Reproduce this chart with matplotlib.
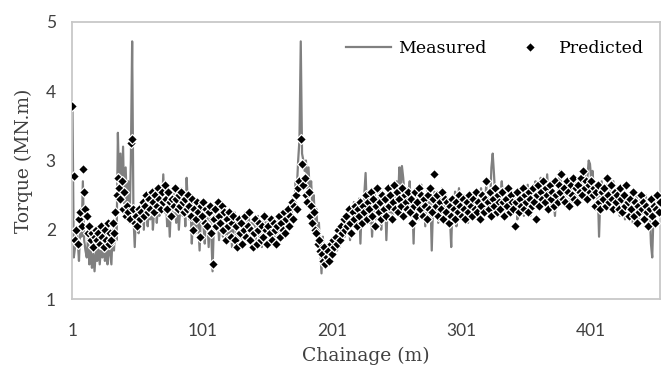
import numpy as np
import matplotlib.pyplot as plt

# measured torque (MN.m), one value per chainage metre starting at 1
measured = [
    3.75, 1.60, 1.75, 2.00, 1.85, 1.55, 2.05, 1.90, 2.70, 1.85,
    1.70, 1.60, 1.90, 1.50, 1.75, 1.45, 1.65, 1.40, 1.70, 1.55,
    1.80, 1.50, 1.75, 1.60, 1.85, 1.55, 1.70, 1.50, 1.80, 1.65,
    1.50, 2.00, 1.70, 2.10, 1.85, 3.40, 2.60, 3.10, 2.40, 3.20,
    2.20, 2.90, 2.30, 2.70, 2.10, 3.00, 4.72, 2.20, 1.75, 2.30,
    2.05, 1.95, 2.25, 2.10, 2.40, 2.00, 2.50, 2.25, 2.05, 2.35,
    2.15, 2.45, 2.00, 2.30, 2.55, 2.10, 2.40, 2.20, 2.60, 2.30,
    2.80, 2.25, 2.50, 2.05, 2.35, 1.90, 2.40, 2.15, 2.55, 2.30,
    2.10, 2.45, 2.00, 2.30, 2.60, 2.20, 2.45, 2.05, 2.75, 2.35,
    2.15, 2.40, 1.80, 2.20, 2.35, 1.95, 2.30, 2.10, 1.70, 2.25,
    2.40, 2.05, 1.80, 2.30, 2.15, 1.75, 2.20, 1.95, 1.40, 2.10,
    2.35, 2.00, 2.20, 1.85, 2.10, 2.30, 1.90, 2.15, 2.05, 1.80,
    2.20, 1.95, 2.10, 1.75, 2.05, 2.25, 1.90, 2.15, 1.80, 2.00,
    2.20, 1.85, 2.05, 2.25, 1.90, 2.00, 2.20, 1.80, 2.10, 1.95,
    2.15, 1.85, 2.00, 2.20, 1.90, 2.10, 1.75, 2.05, 2.25, 1.95,
    2.00, 2.20, 1.85, 2.10, 1.95, 2.15, 1.80, 2.05, 2.20, 1.90,
    2.10, 1.85, 2.05, 2.25, 1.95, 2.15, 2.30, 2.00, 2.40, 2.20,
    2.50, 2.30, 2.70, 2.60, 3.00, 3.30, 4.72, 3.10, 3.00, 2.85,
    3.00, 2.60, 2.90, 2.50, 2.70, 2.30, 2.50, 2.10, 2.30, 1.95,
    2.10, 1.75, 1.37, 1.90, 1.60, 1.70, 1.55, 1.80, 1.50, 1.75,
    1.60, 1.85, 1.65, 1.90, 1.70, 1.95, 1.75, 2.05, 1.85, 2.10,
    1.90, 2.20, 2.00, 2.30, 1.85, 2.25, 2.10, 2.40, 2.05, 2.30,
    2.15, 2.45, 1.80, 2.35, 2.20, 2.50, 2.82, 2.25, 2.45, 2.10,
    2.40, 1.90, 2.30, 2.55, 2.15, 2.45, 2.25, 2.60, 2.00, 2.40,
    2.20, 2.50, 1.85, 2.35, 2.60, 2.25, 2.45, 2.15, 2.55, 2.30,
    2.70, 2.40, 2.90, 2.60, 2.92, 2.75, 2.50, 2.30, 2.60, 2.40,
    2.70, 2.20, 2.45, 1.80, 2.50, 2.35, 2.55, 2.15, 2.40, 2.65,
    2.25, 2.50, 2.05, 2.40, 2.60, 2.20, 2.45, 1.70, 2.35, 2.55,
    2.30, 2.55, 2.10, 2.45, 2.25, 2.60, 2.35, 2.15, 2.50, 2.30,
    2.45, 2.20, 1.75, 2.40, 2.25, 2.55, 2.05, 2.35, 2.60, 2.25,
    2.40, 2.15, 2.50, 2.30, 2.45, 2.10, 2.55, 2.25, 2.40, 2.20,
    2.50, 2.30, 2.45, 2.15, 2.40, 2.60, 2.25, 2.50, 2.35, 2.65,
    2.30, 2.55, 2.40, 2.90, 3.10, 2.80, 2.45, 2.25, 2.55, 2.35,
    2.50, 2.70, 2.40, 2.30, 2.55, 2.20, 2.45, 2.35, 2.60, 2.25,
    2.45, 2.30, 2.55, 2.15, 2.40, 2.60, 2.30, 2.50, 2.20, 2.45,
    2.35, 2.65, 2.40, 2.20, 2.50, 2.30, 2.55, 2.70, 2.40, 2.60,
    2.30, 2.75, 2.50, 2.65, 2.35, 2.55, 2.80, 2.45, 2.60, 2.35,
    2.65, 2.45, 2.20, 2.55, 2.40, 2.70, 2.85, 2.50, 2.60, 2.40,
    2.55, 2.35, 2.70, 2.50, 2.30, 2.60, 2.45, 2.75, 2.55, 2.40,
    2.60, 2.45, 2.70, 2.55, 2.65, 2.80, 2.60, 2.75, 3.00, 2.95,
    2.70, 2.85, 2.55, 2.65, 2.45, 2.60, 1.90, 2.50, 2.70, 2.45,
    2.60, 2.40, 2.65, 2.50, 2.35, 2.60, 2.45, 2.70, 2.50, 2.35,
    2.55, 2.40, 2.20, 2.50, 2.35, 2.60, 2.15, 2.45, 2.30, 2.50,
    2.25, 2.45, 2.10, 2.40, 2.20, 2.50, 2.30, 2.15, 2.45, 2.25,
    2.40, 2.20, 2.50, 2.30, 2.10, 2.35, 1.80, 1.60, 2.25, 2.40,
    2.20, 2.45, 2.30, 2.50,
]

# predicted torque (MN.m)
predicted = [
    3.78, 2.77, 1.85, 2.00, 1.80, 2.15, 2.25, 2.05, 2.87, 2.55,
    2.30, 2.20, 1.95, 2.05, 1.85, 1.95, 1.75, 1.90, 2.00, 1.85,
    1.95, 1.80, 2.05, 1.90, 1.75, 2.00, 1.85, 2.10, 1.80, 1.95,
    1.85, 2.10, 1.95, 2.25, 2.50, 2.75, 2.60, 2.45, 2.70, 2.30,
    2.55, 2.20, 2.35, 2.25, 2.15, 3.25, 3.31, 2.30, 2.10, 2.20,
    2.05, 2.30, 2.15, 2.25, 2.40, 2.20, 2.35, 2.50, 2.25, 2.45,
    2.30, 2.55, 2.40, 2.25, 2.50, 2.35, 2.60, 2.45, 2.30, 2.55,
    2.40, 2.65, 2.45, 2.30, 2.55, 2.40, 2.20, 2.45, 2.35, 2.60,
    2.45, 2.30, 2.50, 2.35, 2.55, 2.40, 2.25, 2.45, 2.30, 2.50,
    2.35, 2.20, 2.45, 2.00, 2.30, 2.15, 2.40, 2.25, 1.90, 2.35,
    2.20, 2.40, 2.10, 2.30, 2.05, 2.25, 2.35, 1.95, 1.50, 2.15,
    2.30, 2.05, 2.40, 2.20, 2.10, 2.35, 2.00, 2.25, 1.85, 2.15,
    2.05, 2.25, 1.90, 2.10, 2.20, 1.85, 2.05, 1.75, 2.15, 1.95,
    2.10, 1.80, 2.00, 2.20, 1.90, 2.05, 2.25, 1.85, 2.00, 1.75,
    1.95, 2.15, 1.80, 2.00, 2.10, 1.85, 2.05, 1.90, 2.20, 2.00,
    1.80, 2.05, 1.95, 2.15, 1.85, 2.10, 2.00, 1.80, 2.05, 2.20,
    1.90, 2.10, 2.00, 2.25, 1.95, 2.15, 2.30, 2.05, 2.20, 2.40,
    2.15, 2.35, 2.50, 2.30, 2.60, 2.70, 3.31, 2.95, 2.65, 2.75,
    2.50, 2.40, 2.55, 2.20, 2.35, 2.10, 2.25, 2.00, 1.95, 1.80,
    1.85, 1.70, 1.65, 1.55, 1.75, 1.50, 1.60, 1.70, 1.55, 1.80,
    1.65, 1.85, 1.75, 1.90, 1.80, 2.00, 1.85, 2.05, 1.95, 2.15,
    2.00, 2.20, 2.05, 2.30, 2.10, 1.95, 2.25, 2.15, 2.35, 2.05,
    2.30, 2.20, 2.40, 2.10, 2.35, 2.25, 2.50, 2.15, 2.40, 2.30,
    2.55, 2.20, 2.45, 2.05, 2.35, 2.60, 2.25, 2.40, 2.15, 2.50,
    2.30, 2.45, 2.20, 2.60, 2.35, 2.50, 2.15, 2.40, 2.65, 2.30,
    2.55, 2.25, 2.45, 2.35, 2.60, 2.20, 2.50, 2.40, 2.30, 2.55,
    2.25, 2.45, 2.10, 2.35, 2.55, 2.20, 2.40, 2.60, 2.30, 2.50,
    2.20, 2.45, 2.35, 2.15, 2.50, 2.30, 2.60, 2.25, 2.45, 2.80,
    2.35, 2.50, 2.20, 2.40, 2.30, 2.55, 2.15, 2.45, 2.25, 2.40,
    2.10, 2.35, 2.20, 2.45, 2.30, 2.15, 2.40, 2.25, 2.50, 2.35,
    2.20, 2.45, 2.30, 2.15, 2.40, 2.25, 2.50, 2.35, 2.20, 2.45,
    2.30, 2.55, 2.25, 2.40, 2.15, 2.35, 2.50, 2.25, 2.45, 2.70,
    2.40, 2.30, 2.55, 2.20, 2.45, 2.35, 2.60, 2.25, 2.50, 2.40,
    2.30, 2.55, 2.40, 2.20, 2.45, 2.35, 2.60, 2.25, 2.50, 2.40,
    2.30, 2.05, 2.40, 2.55, 2.25, 2.45, 2.35, 2.60, 2.30, 2.50,
    2.40, 2.25, 2.55, 2.45, 2.35, 2.60, 2.40, 2.15, 2.50, 2.65,
    2.35, 2.55, 2.45, 2.70, 2.40, 2.60, 2.50, 2.30, 2.65, 2.45,
    2.55, 2.35, 2.70, 2.50, 2.40, 2.65, 2.55, 2.80, 2.45, 2.60,
    2.40, 2.70, 2.55, 2.35, 2.65, 2.50, 2.75, 2.45, 2.60, 2.40,
    2.65, 2.55, 2.75, 2.50, 2.85, 2.60, 2.70, 2.45, 2.65, 2.55,
    2.70, 2.50, 2.60, 2.35, 2.55, 2.65, 2.40, 2.30, 2.55, 2.45,
    2.60, 2.35, 2.75, 2.50, 2.40, 2.65, 2.45, 2.30, 2.55, 2.40,
    2.50, 2.30, 2.60, 2.45, 2.25, 2.50, 2.35, 2.65, 2.40, 2.20,
    2.45, 2.30, 2.55, 2.20, 2.40, 2.10, 2.35, 2.25, 2.50, 2.30,
    2.40, 2.15, 2.35, 2.25, 2.05, 2.30, 2.45, 2.20, 2.35, 2.10,
    2.30, 2.50, 2.25, 2.40,
]

x_ticks = [1, 101, 201, 301, 401]
y_ticks = [1, 2, 3, 4, 5]

chainage = np.arange(1, len(measured) + 1)

fig = plt.figure(figsize=(6.62, 3.81), dpi=100)
ax = fig.add_axes([0.1095, 0.2152, 0.8875, 0.7271])

ax.plot(chainage, measured, color="#808080", lw=1.6, label="Measured", zorder=2)
ax.plot(chainage, predicted, ls="none", marker="D", ms=5.5, mfc="black",
        mec="white", mew=0.9, label="Predicted", zorder=3)

ax.set_xlim(1, len(measured))
ax.set_ylim(1, 5)
ax.set_xticks(x_ticks)
ax.set_yticks(y_ticks)

for s in ax.spines.values():
    s.set_color("#C8C8C8")
    s.set_linewidth(1.3)

ax.tick_params(length=0, labelsize=12.5, colors="#404040")
ax.tick_params(axis="x", pad=17)
ax.tick_params(axis="y", pad=12)
for lab in ax.get_xticklabels() + ax.get_yticklabels():
    lab.set_family("Lato")

ax.set_xlabel("Chainage (m)", family="DejaVu Serif", fontsize=13.5, color="#404040", labelpad=6)
ax.set_ylabel("Torque (MN.m)", family="DejaVu Serif", fontsize=13.5, color="#404040", labelpad=9)

ax.legend(loc="upper right", bbox_to_anchor=(1.0, 0.99), ncol=2, frameon=False,
          prop={"family": "DejaVu Serif", "size": 12.5}, handlelength=2.6,
          columnspacing=1.2, handletextpad=0.4)

fig.savefig("out.png", dpi=100)
